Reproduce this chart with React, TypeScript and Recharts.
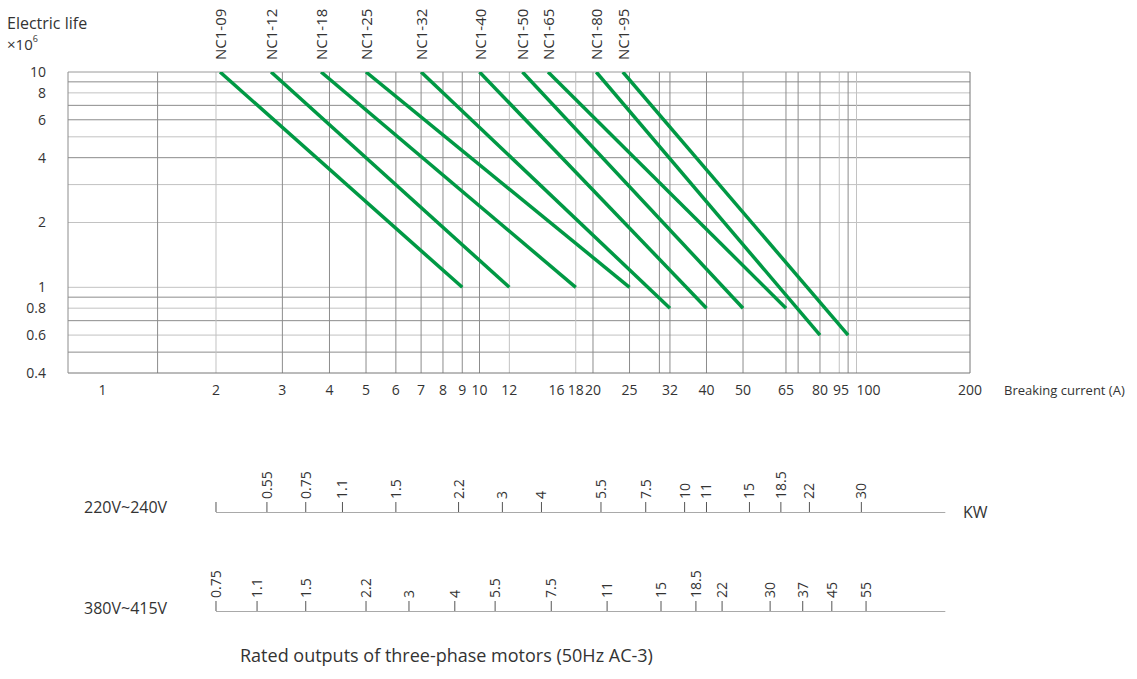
import React from 'react';
import { LineChart, Line, XAxis, YAxis, ReferenceLine } from 'recharts';

// contactor curves: life x10^6 against breaking current (A)
const models = ['NC1-09', 'NC1-12', 'NC1-18', 'NC1-25', 'NC1-32', 'NC1-40', 'NC1-50', 'NC1-65', 'NC1-80', 'NC1-95'];
const startCurrent = [2.05, 2.8, 3.8, 5, 7, 10, 13, 15.2, 20.4, 24];
const startLife = [10, 10, 10, 10, 10, 10, 10, 10, 10, 10];
const endCurrent = [9, 12, 18, 25, 32, 40, 50, 65, 80, 95];
const endLife = [1, 1, 1, 1, 0.8, 0.8, 0.8, 0.8, 0.6, 0.6];

const xTicks = [1, 2, 3, 4, 5, 6, 7, 8, 9, 10, 12, 16, 18, 20, 25, 32, 40, 50, 65, 80, 95, 100, 200];
const yTicks = [0.4, 0.6, 0.8, 1, 2, 4, 6, 8, 10];
const xGrid = [1.4, 2, 3, 4, 5, 6, 7, 8, 9, 10, 12, 18, 20, 25, 30, 32, 40, 50, 65, 70, 80, 90, 95, 100];
const xGridLight = [2, 12, 18, 90, 100];
const yGrid = [9, 8, 7, 6, 5, 4, 3, 2, 1, 0.9, 0.8, 0.7, 0.6, 0.5];
const yGridLight = [8, 5, 3, 2, 1, 0.8, 0.6];

// motor ratings and the current each sits at
const kw220 = ['', '0.55', '0.75', '1.1', '1.5', '2.2', '3', '4', '5.5', '7.5', '10', '11', '15', '18.5', '22', '30'];
const amp220 = [2, 2.73, 3.46, 4.33, 6, 8.8, 11.5, 14.6, 21, 27.6, 35, 40, 52, 63, 75, 103];
const kw380 = ['0.75', '1.1', '1.5', '2.2', '3', '4', '5.5', '7.5', '11', '15', '18.5', '22', '30', '37', '45', '55'];
const amp380 = [2, 2.57, 3.46, 5.0, 6.5, 8.6, 11, 15.5, 21.8, 30.3, 37.5, 44, 59, 72, 86, 106];
const scaleSpan = [2, 172];

const X_DOMAIN: [number, number] = [0.81, 200];
const FONT = '"Open Sans", "Noto Sans", sans-serif';
const TEXT = '#333';
const GREEN = '#009944';

const series = models.map((name, i) => ({
  name,
  data: [
    { amp: startCurrent[i], life: startLife[i] },
    { amp: endCurrent[i], life: endLife[i] },
  ],
}));

const xNudge: Record<number, number> = { 95: -7, 100: 12 };

const CurrentTick = (props: any) => {
  const { x, y, payload } = props;
  return (
    <text x={x + (xNudge[payload.value] || 0)} y={y} dy={12} textAnchor="middle" fontSize={14} fill={TEXT} fontFamily={FONT}>
      {payload.value}
    </text>
  );
};

const modelLabel = (name: string) => (props: any) => {
  const { x, y, index } = props;
  if (index !== 0) return null;
  return (
    <text
      transform={`translate(${x + 6},${y - 12}) rotate(-90)`}
      textAnchor="start"
      fontSize={15}
      fill={TEXT}
      fontFamily={FONT}
    >
      {name}
    </text>
  );
};

const KwTick = (props: any) => {
  const { x, y, payload, amps, labels } = props;
  const label = labels[amps.indexOf(payload.value)];
  if (!label) return null;
  return (
    <text transform={`translate(${x + 5},${y}) rotate(-90)`} textAnchor="start" fontSize={14} fill={TEXT} fontFamily={FONT}>
      {label}
    </text>
  );
};

const KwScale = ({ amps, labels }: { amps: number[]; labels: string[] }) => (
  <LineChart
    width={1137}
    height={60}
    margin={{ top: 0, right: 167, bottom: 0, left: 68 }}
    data={scaleSpan.map((amp) => ({ amp, base: 1 }))}
  >
    <XAxis
      type="number"
      dataKey="amp"
      scale="log"
      domain={X_DOMAIN}
      allowDataOverflow
      orientation="top"
      height={50}
      ticks={amps}
      interval={0}
      axisLine={false}
      tickSize={10}
      tickMargin={3}
      tickLine={{ stroke: '#555' }}
      tick={<KwTick amps={amps} labels={labels} />}
    />
    <YAxis hide type="number" domain={[0, 1]} allowDataOverflow />
    <Line dataKey="base" stroke="#555" strokeWidth={1.2} dot={false} isAnimationActive={false} />
  </LineChart>
);

export default function App() {
  return (
    <div style={{ position: 'absolute', left: 0, top: 0, width: 1137, height: 679, background: '#fff', fontFamily: FONT }}>
      <div style={{ position: 'absolute', left: 0, top: 0 }}>
        <LineChart width={1137} height={420} margin={{ top: 72, right: 167, bottom: 17, left: 0 }}>
          <XAxis
            type="number"
            dataKey="amp"
            scale="log"
            domain={X_DOMAIN}
            allowDataOverflow
            ticks={xTicks}
            interval={0}
            height={30}
            axisLine={false}
            tickLine={false}
            tickSize={0}
            tickMargin={10}
            tick={<CurrentTick />}
          />
          <YAxis
            type="number"
            scale="log"
            domain={[0.4, 10]}
            allowDataOverflow
            ticks={yTicks}
            interval={0}
            width={68}
            axisLine={false}
            tickLine={false}
            tickSize={0}
            tickMargin={22}
            tick={{ fontSize: 14, fill: TEXT, fontFamily: FONT }}
          />
          {yGrid.map((v) => (
            <ReferenceLine key={`y${v}`} y={v} stroke={yGridLight.includes(v) ? '#c2c2c2' : '#8c8c8c'} strokeWidth={1} />
          ))}
          {xGrid.map((v) => (
            <ReferenceLine key={`x${v}`} x={v} stroke={xGridLight.includes(v) ? '#c2c2c2' : '#8c8c8c'} strokeWidth={1} />
          ))}
          <ReferenceLine y={10} stroke="#9a9a9a" />
          <ReferenceLine y={0.4} stroke="#777" />
          <ReferenceLine x={X_DOMAIN[0]} stroke="#8c8c8c" />
          <ReferenceLine x={X_DOMAIN[1]} stroke="#777" />
          {series.map((s) => (
            <Line
              key={s.name}
              data={s.data}
              dataKey="life"
              stroke={GREEN}
              strokeWidth={3.5}
              dot={false}
              isAnimationActive={false}
              label={modelLabel(s.name)}
            />
          ))}
        </LineChart>
      </div>

      <div style={{ position: 'absolute', left: 0, top: 462 }}>
        <KwScale amps={amp220} labels={kw220} />
      </div>
      <div style={{ position: 'absolute', left: 0, top: 561 }}>
        <KwScale amps={amp380} labels={kw380} />
      </div>

      <svg width={1137} height={679} style={{ position: 'absolute', left: 0, top: 0, pointerEvents: 'none' }} fontFamily={FONT} fill={TEXT}>
        <text x={7} y={29} fontSize={16}>Electric life</text>
        <text x={7} y={50} fontSize={15}>
          ×10<tspan fontSize={9} dy={-8}>6</tspan>
        </text>
        <text x={1004} y={395} fontSize={13}>Breaking current (A)</text>
        <text x={84} y={513} fontSize={16}>220V~240V</text>
        <text x={84} y={614} fontSize={16}>380V~415V</text>
        <text x={963} y={518} fontSize={16}>KW</text>
        <text x={240} y={662} fontSize={18}>Rated outputs of three-phase motors (50Hz AC-3)</text>
      </svg>
    </div>
  );
}
